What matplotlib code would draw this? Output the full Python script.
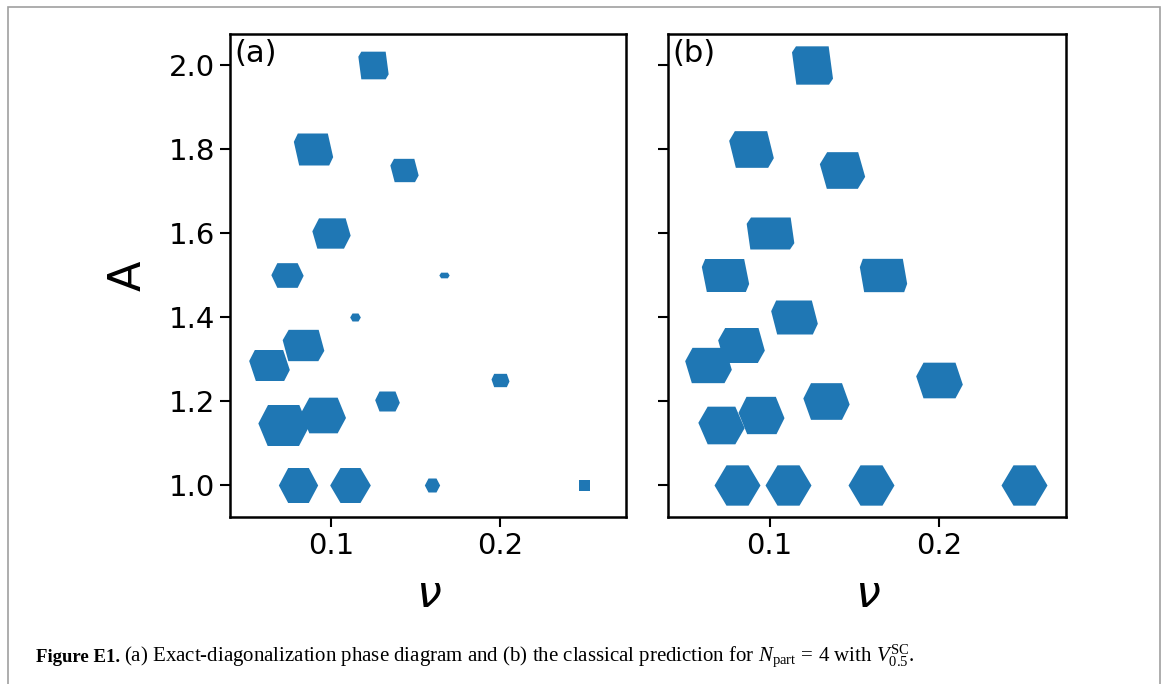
import numpy as np
import matplotlib.pyplot as plt
from matplotlib.patches import Rectangle

plt.rcParams['mathtext.fontset'] = 'custom'
plt.rcParams['mathtext.rm'] = 'Liberation Serif'
plt.rcParams['mathtext.it'] = 'Liberation Serif:italic'
plt.rcParams['mathtext.bf'] = 'Liberation Serif:bold'

# filling fraction and A for each phase point (same grid in both panels)
nu = [0.125, 0.0893, 0.1429, 0.100, 0.0740, 0.1667, 0.1143, 0.0833, 0.0635,
      0.0714, 0.0952, 0.1333, 0.200, 0.0806, 0.1111, 0.160, 0.250]
A = [2.0, 1.8, 1.75, 1.6, 1.5, 1.5, 1.4, 1.3333, 1.2857,
     1.1429, 1.1667, 1.2, 1.25, 1.0, 1.0, 1.0, 1.0]

# marker cell shapes (x_topleft, x_topright, half_height, x_right, y_right),
# read off the picture at 3x, in pixels*3
cell_a = [(-36.5, 36.5, 41.5, 45.5, -26.5), (-47, 43, 48, 59, -23),
          (-31.5, 29.5, 35, 42.5, -15), (-37.5, 42.5, 45.5, 57.5, -6.5),
          (-30.5, 30.5, 37, 48.5, -1), (-10, 10, 8.5, 15.5, 0),
          (-9, 9, 12, 16, 0), (-44.5, 45.5, 47, 62.5, -16),
          (-44, 41, 46.5, 61, -13.5), (-46.5, 47.5, 61.5, 75.5, -6),
          (-42.5, 42.5, 53.5, 67.5, -7.5), (-24, 24, 30, 37, -4),
          (-19, 19, 20, 27, -3), (-31, 31, 52.5, 59, 0),
          (-30, 30, 52.5, 61, 0), (-12, 12, 21, 23, 0),
          (-16.5, 16.5, 16.5, 16.5, 0)]
cell_b = [(-49.5, 48.5, 57.5, 61.5, -39.5), (-50, 47, 55, 67, -26),
          (-46, 47, 55, 68, -19), (-58.5, 60.5, 48, 71.5, -29),
          (-61, 56, 49.5, 71, -25.5), (-62, 58, 50, 71, -25),
          (-55, 52, 51, 70, -19), (-49, 51, 52.5, 70, -15.5),
          (-48, 50, 53, 70, -13), (-41.5, 41.5, 56.5, 69.5, -8),
          (-45, 43, 56, 69, -8), (-46.5, 46.5, 55, 69.5, -9),
          (-48, 48, 53.5, 70, -12.5), (-33, 33, 60.5, 69, 0),
          (-33, 33, 60.5, 69, 0), (-33, 33, 60.5, 69, 0),
          (-33, 33, 60.5, 69, 0)]

dpi = 100
fig = plt.figure(figsize=(11.68, 6.84), dpi=dpi)

# page frame
fig.add_artist(Rectangle((8 / 1168, -0.1), 1152 / 1168, 1 - 7 / 684 + 0.1,
                         transform=fig.transFigure, fill=False,
                         edgecolor='#a0a0a0', linewidth=1.2))

ax1 = fig.add_axes([230 / 1168, 1 - 517 / 684, 396 / 1168, 483 / 684])
ax2 = fig.add_axes([668 / 1168, 1 - 517 / 684, 398 / 1168, 483 / 684], sharey=ax1)


def draw_cells(ax, cells):
    for x, y, c in zip(nu, A, cells):
        x1, x2, h, x3, y3 = [v / 3 for v in c]
        verts = [(x1, h), (x2, h), (x3, y3), (-x1, -h), (-x2, -h), (-x3, -y3), (x1, h)]
        m = np.max(np.abs(verts))
        ax.plot([x], [y], marker=verts, ms=2 * m * 72 / dpi, mew=0,
                color='#1f77b4', ls='none')


draw_cells(ax1, cell_a)
draw_cells(ax2, cell_b)

for ax, lab in [(ax1, '(a)'), (ax2, '(b)')]:
    ax.set_xlim(0.0402, 0.2746)
    ax.set_ylim(0.924, 2.074)
    ax.set_xticks([0.1, 0.2])
    ax.set_yticks([1.0, 1.2, 1.4, 1.6, 1.8, 2.0])
    ax.tick_params(labelsize=21, length=7, width=1.5)
    for s in ax.spines.values():
        s.set_linewidth(1.8)
    ax.text(0.01, 0.99, lab, transform=ax.transAxes, fontsize=22,
            va='top', ha='left')
    ax.set_xlabel('ν', fontsize=32, fontstyle='italic', labelpad=10)

ax2.tick_params(labelleft=False)
ax1.set_ylabel('A', fontsize=32, labelpad=14)

# caption
t1 = fig.text(36 / 1168, 1 - 662 / 684, 'Figure E1.', family='Liberation Serif',
              weight='bold', fontsize=13.5)
fig.canvas.draw()
bb = t1.get_window_extent()
fig.text((bb.x1 + 4) / 1168, 1 - 662 / 684,
         r'(a) Exact-diagonalization phase diagram and (b) the classical prediction for '
         r'$N_{\mathrm{part}}\, =\, 4$ with $V_{0.5}^{\mathrm{SC}}$.',
         family='Liberation Serif', fontsize=15)

fig.savefig('out.png', dpi=dpi)
